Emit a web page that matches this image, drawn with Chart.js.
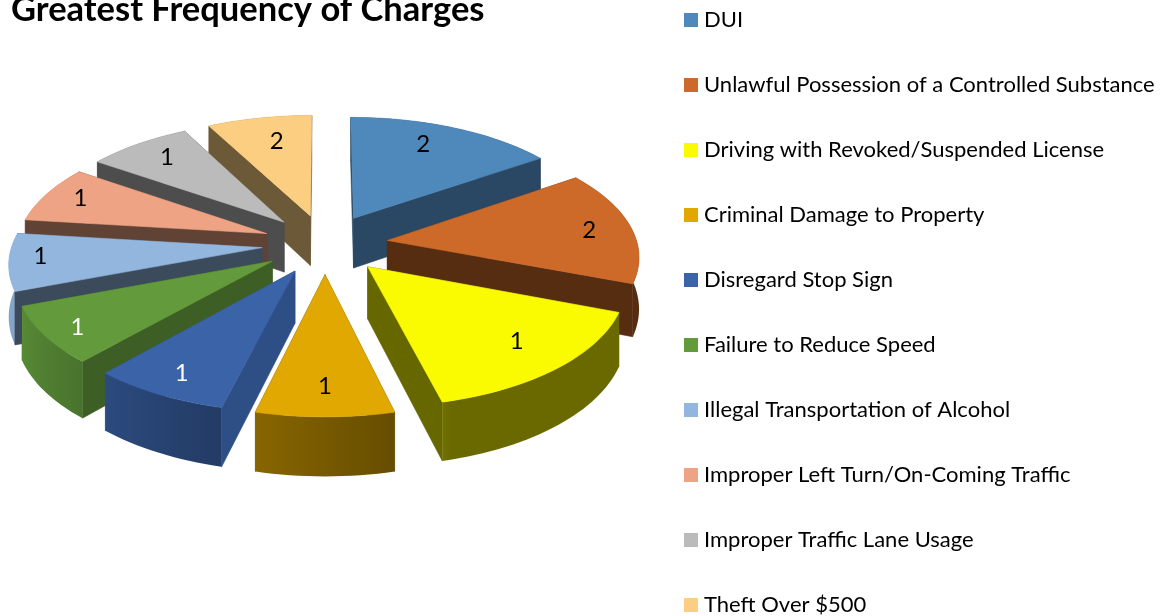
<!DOCTYPE html>
<html>
<head>
<meta charset="utf-8">
<style>
html,body{margin:0;padding:0;background:#fff;overflow:hidden;width:1163px;height:616px}
#wrap{position:relative;width:1163px;height:616px;overflow:hidden}
canvas{display:block}
</style>
<script src="https://cdn.jsdelivr.net/npm/chart.js@4/dist/chart.umd.js"></script>
</head>
<body>
<div id="wrap"><canvas id="c" width="1163" height="760"></canvas></div>
<script>
// ---- data ----
const categories = ["DUI","Unlawful Possession of a Controlled Substance","Driving with Revoked/Suspended License","Criminal Damage to Property","Disregard Stop Sign","Failure to Reduce Speed","Illegal Transportation of Alcohol","Improper Left Turn/On-Coming Traffic","Improper Traffic Lane Usage","Theft Over $500"];
const sliceSizes = [2,2,2,1,1,1,1,1,1,1];      // relative size of the drawn slices
const printedLabels = [2,2,1,1,1,1,1,1,1,2];   // numbers printed on the slices

// ---- styles ----
const topColors = ["#4F88BB","#CD6A29","#FAFA00","#E0A800","#3A63A8","#629A3C","#93B6DF","#EDA384","#BBBBBB","#FBCE82"];
const faceShade = [.53,.42,.41,.45,.8,.62,.41,.41,.41,.43];
const labelColors = ["#000","#000","#000","#000","#fff","#fff","#000","#000","#000","#000"];
const labelReach = [.82,.82,.78,.82,.85,.88,.88,.85,.83,.78];
const labelNudgeX = [-14,2,4,0,1,4,1,2,6,7];
const labelNudgeY = [1,1,-3,-2,-1,1,-4,-2,1,3];
const FONT = "Lato, Carlito, sans-serif";
const view = {cx:325, cy:244, squash:.4725, focal:2170, depth:51, explode:63, radius:250};

function project(X,Y,z){
  const p = view.focal/(view.focal-Y);
  return [view.cx+X*p, view.cy+view.squash*Y*p+z*p];
}
function shade(hex,f){
  const n=parseInt(hex.slice(1),16);
  return `rgb(${Math.round((n>>16)*f)},${Math.round(((n>>8)&255)*f)},${Math.round((n&255)*f)})`;
}
function wallShade(a){ // a: clockwise degrees from top
  if(a<165||a>300) return .42;
  return Math.min(.9,.45+(a-165)/85*.45);
}
function poly(ctx,pts,fill,stroke){
  ctx.beginPath();
  pts.forEach((p,i)=>i?ctx.lineTo(p[0],p[1]):ctx.moveTo(p[0],p[1]));
  ctx.closePath();
  ctx.fillStyle=fill;ctx.fill();
  if(stroke){ctx.strokeStyle=fill;ctx.lineWidth=.6;ctx.stroke();}
}
function drawSlice(ctx,arc,i){
  const {startAngle:s,endAngle:e,outerRadius:R}=arc;
  const m=(s+e)/2,tx=Math.cos(m)*view.explode,ty=Math.sin(m)*view.explode;
  const col=topColors[i];
  const steps=Math.max(8,Math.round((e-s)/0.03));
  const rim=[];
  for(let j=0;j<=steps;j++){
    const a=s+(e-s)*j/steps;
    rim.push([tx+Math.cos(a)*R,ty+Math.sin(a)*R,a]);
  }
  const wall=(a,b)=>[project(a[0],a[1],0),project(b[0],b[1],0),project(b[0],b[1],view.depth),project(a[0],a[1],view.depth)];
  const faceCol=shade(col,faceShade[i]);
  const parts=[
    {d:(ty+rim[0][1])/2,draw:()=>poly(ctx,wall([tx,ty],rim[0]),faceCol,true)},
    {d:(ty+rim[steps][1])/2,draw:()=>poly(ctx,wall([tx,ty],rim[steps]),faceCol,true)},
    {d:rim[steps>>1][1],draw:()=>{
      const upper=rim.map(r=>project(r[0],r[1],0)),lower=rim.map(r=>project(r[0],r[1],view.depth)).reverse();
      const xs=upper.map(p=>p[0]),x0=Math.min(...xs),x1=Math.max(...xs);
      const g=ctx.createLinearGradient(x0,0,x1,0);
      rim.forEach((r,j)=>{
        const deg=((r[2]+Math.PI/2)*180/Math.PI+360)%360;
        g.addColorStop((upper[j][0]-x0)/(x1-x0),shade(col,wallShade(deg)));
      });
      poly(ctx,[...upper,...lower],g,false);
    }}
  ];
  parts.sort((a,b)=>a.d-b.d).forEach(p=>p.draw());
  poly(ctx,[project(tx,ty,0),...rim.map(r=>project(r[0],r[1],0))],col,true);
}
class ExplodedPie3D extends Chart.DoughnutController{
  draw(){
    const ctx=this.chart.ctx,arcs=this.getMeta().data;
    const order=arcs.map((a,i)=>i).sort((a,b)=>Math.sin((arcs[a].startAngle+arcs[a].endAngle)/2)-Math.sin((arcs[b].startAngle+arcs[b].endAngle)/2));
    ctx.save();
    ctx.lineJoin="round";
    order.forEach(i=>drawSlice(ctx,arcs[i],i));
    ctx.font="24px "+FONT;
    ctx.textAlign="center";ctx.textBaseline="middle";
    arcs.forEach((arc,i)=>{
      const m=(arc.startAngle+arc.endAngle)/2,r=view.explode+arc.outerRadius*labelReach[i];
      const p=project(Math.cos(m)*r,Math.sin(m)*r,0);
      ctx.fillStyle=labelColors[i];
      ctx.fillText(String(printedLabels[i]),p[0]+labelNudgeX[i],p[1]+labelNudgeY[i]);
    });
    ctx.restore();
  }
}
ExplodedPie3D.id="explodedPie3D";
ExplodedPie3D.defaults=Chart.DoughnutController.defaults;
ExplodedPie3D.overrides=Chart.DoughnutController.overrides;
Chart.register(ExplodedPie3D);

function swatch(color){
  const c=document.createElement("canvas");c.width=14;c.height=14;
  const x=c.getContext("2d");x.fillStyle=color;x.fillRect(0,0,14,14);return c;
}
const placeBlocks={id:"placeBlocks",afterLayout(chart){
  const l=chart.legend,t=chart.titleBlock;
  const dx=689-chart.options.plugins.legend.labels.padding-l.left;
  l.left+=dx;l.right+=dx;
  const dy=-34-l.top;l.top+=dy;l.bottom+=dy;
  const h=t.bottom-t.top;
  t.left=11;t.right=1000;t.top=10-h/2;t.bottom=t.top+h;
}};
new Chart(document.getElementById("c"),{
  type:"explodedPie3D",
  data:{labels:categories,datasets:[{data:sliceSizes,backgroundColor:topColors,borderWidth:0}]},
  plugins:[placeBlocks],
  options:{
    responsive:false,animation:false,radius:view.radius,
    plugins:{
      tooltip:{enabled:false},
      title:{display:true,text:"Greatest Frequency of Charges",align:"start",color:"#000",padding:0,font:{family:FONT,size:34.5,weight:"bold",lineHeight:1}},
      legend:{position:"right",align:"start",labels:{
        font:{family:FONT,size:22},color:"#111",padding:43,usePointStyle:true,pointStyleWidth:4,
        generateLabels:(chart)=>categories.map((t,i)=>({text:t,fillStyle:topColors[i],strokeStyle:topColors[i],lineWidth:0,pointStyle:swatch(topColors[i]),index:i,hidden:false}))
      }}
    }
  }
});
</script>
</body>
</html>
